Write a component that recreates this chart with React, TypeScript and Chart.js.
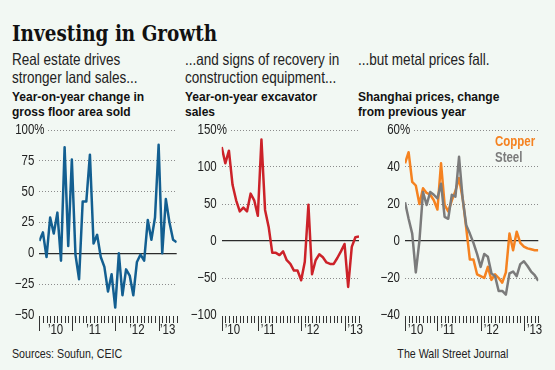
import React, { useEffect, useRef } from 'react';
import { Chart, registerables } from 'chart.js';

Chart.register(...registerables);

// ---------------- data ----------------
const floorAreaStart = '2010-04';
const floorAreaChange = [10, 17, -3, 29, 16, 33, -6, 86, 6, 76, -1, -21, 42, 42, 80, 8, 15, -3, -11, -31, -17, -44, 0, -34, -13, -18, -34, -7, -1, -6, 27, 11, 29, 88, 0, 44, 25, 11, 9];
const floorAreaTicks = [-50, -25, 0, 25, 50, 75, 100];

const excavatorStart = '2010-03';
const excavatorSales = [127, 105, 122, 76, 55, 40, 45, 40, 64, 55, 34, 137, 42, 19, -16, -16, -19, -14, -26, -31, -40, -40, -53, -28, 49, -45, -26, -18, -22, -29, -31, -31, -23, -14, -4, -62, -8, 5, 6];
const excavatorTicks = [-100, -50, 0, 50, 100, 150];

const metalStart = '2010-04';
const copperChange = [42, 48, 32, 30, 20, 28.5, 26, 25, 22, 17, 42, 19.5, 16, 22, 27, 34, 23, 7, -10, -10, -18, -19, -20, -14, -21, -18, -20, -22.5, -17, 4, -5, 5, -1, -3, -4, -4.5, -5, -5];
const steelChange = [21, 12, 4, -17, 0, 26.5, 19.5, 26.5, 25, 23, 31, 13, 12, 25, 24, 45.5, 23, 8.5, 4, -1, -7, -14, -7, -8.5, -17.5, -19, -27, -27, -29, -17.5, -16.5, -19, -12.5, -11, -13.5, -16.5, -18.5, -21.5];
const metalTicks = [-40, -20, 0, 20, 40, 60];

const yearLabels = ['\u201910', '\u201911', '\u201912', '\u201913'];

// ---------------- styles ----------------
const BG = '#f2f8f3';
const SANS = "'Liberation Sans', Arial, sans-serif";
const SQUEEZE = 0.82; // Liberation Sans squeezed to narrow proportions

function monthIndex(s: string) {
  const [y, m] = s.split('-').map(Number);
  return (y - 2010) * 12 + (m - 1);
}

function narrowText(
  c: CanvasRenderingContext2D,
  text: string,
  x: number,
  y: number,
  align: CanvasTextAlign,
  baseline: CanvasTextBaseline,
  size = 14
) {
  c.save();
  c.font = `${size}px ${SANS}`;
  c.translate(x, y);
  c.scale(SQUEEZE, 1);
  c.textAlign = align;
  c.textBaseline = baseline;
  c.fillText(text, 0, 0);
  c.restore();
}

type Series = { values: number[]; color: string };
type PanelCfg = {
  left: number;
  areaLeft: number;
  areaRight: number;
  start: string;
  yTicks: number[];
  series: Series[];
  labelMode: 'center' | 'left';
};

const CANVAS_W = 185;
const CANVAS_H = 225;
const CANVAS_TOP = 120;

const fmt = (v: number) => (v < 0 ? '\u2212' + Math.abs(v) : String(v));

const axisPlugin = (cfg: PanelCfg) => ({
  id: 'wsjAxis',
  afterDraw(chart: any) {
    const xs = chart.scales.x;
    const ys = chart.scales.y;
    const area = chart.chartArea;
    const c = chart.ctx as CanvasRenderingContext2D;
    c.save();
    // month ticks
    const y0 = Math.round(area.bottom) + 1;
    c.strokeStyle = '#333';
    c.lineWidth = 1;
    for (let m = Math.ceil(xs.min); m <= xs.max; m++) {
      const px = Math.round(xs.getPixelForValue(m)) + 0.5;
      const long = m % 12 === 0 || m === xs.min;
      c.beginPath();
      c.moveTo(px, y0);
      c.lineTo(px, y0 + (long ? 15 : 7));
      c.stroke();
    }
    c.fillStyle = '#222';
    // year labels
    yearLabels.forEach((lab, k) => {
      const s = Math.max(k * 12, xs.min);
      const e = Math.min(k * 12 + 12, xs.max);
      if (e <= s) return;
      if (cfg.labelMode === 'center') {
        narrowText(c, lab, (xs.getPixelForValue(s) + xs.getPixelForValue(e)) / 2, y0 + 18, 'center', 'alphabetic');
      } else {
        narrowText(c, lab, xs.getPixelForValue(s) + 3, y0 + 18, 'left', 'alphabetic');
      }
    });
    // y labels, right aligned on the numbers, percent sign hanging
    const lx = area.left - 5;
    cfg.yTicks.forEach((v) => {
      narrowText(c, fmt(v), lx, ys.getPixelForValue(v), 'right', 'middle');
    });
    const top = Math.max(...cfg.yTicks);
    const py = ys.getPixelForValue(top);
    c.font = `14px ${SANS}`;
    const w = c.measureText('%').width * SQUEEZE;
    c.fillStyle = BG;
    c.fillRect(lx, py - 4, w + 2, 8);
    c.fillStyle = '#222';
    narrowText(c, '%', lx, py, 'left', 'middle');
    c.restore();
  },
});

function Panel({ cfg }: { cfg: PanelCfg }) {
  const ref = useRef<HTMLCanvasElement | null>(null);
  useEffect(() => {
    if (!ref.current) return;
    const m0 = monthIndex(cfg.start);
    const n = Math.max(...cfg.series.map((s) => s.values.length));
    const yMin = Math.min(...cfg.yTicks);
    const yMax = Math.max(...cfg.yTicks);
    const chart = new Chart(ref.current, {
      type: 'line',
      data: {
        datasets: cfg.series.map((s) => ({
          data: s.values.map((v, i) => ({ x: m0 + i, y: v })),
          borderColor: s.color,
          borderWidth: 2.5,
          pointRadius: 0,
          tension: 0,
          fill: false,
          borderJoinStyle: 'round' as const,
        })),
      },
      options: {
        animation: false,
        responsive: false,
        devicePixelRatio: 1,
        layout: { padding: { left: 0, right: CANVAS_W - cfg.areaRight, top: 10, bottom: 30 } },
        plugins: { legend: { display: false }, tooltip: { enabled: false } },
        scales: {
          x: { type: 'linear', display: false, min: m0, max: m0 + n - 1 },
          y: {
            min: yMin,
            max: yMax,
            afterBuildTicks: (s: any) => {
              s.ticks = cfg.yTicks.map((v) => ({ value: v }));
            },
            afterFit: (s: any) => {
              s.width = cfg.areaLeft;
            },
            ticks: { display: false },
            grid: {
              drawTicks: false,
              color: (ctx: any) =>
                ctx.tick && ctx.tick.value === 0
                  ? '#2b2b2b'
                  : ctx.tick && ctx.tick.value === yMin
                  ? 'rgba(0,0,0,0)'
                  : '#8c8c8c',
              lineWidth: (ctx: any) => (ctx.tick && ctx.tick.value === 0 ? 1.3 : 1),
            },
            border: {
              display: false,
              dash: (ctx: any) => (ctx.tick && ctx.tick.value === 0 ? [] : [1, 2]),
            },
          },
        },
      } as any,
      plugins: [axisPlugin(cfg)],
    });
    return () => chart.destroy();
  }, [cfg]);
  return (
    <canvas
      ref={ref}
      width={CANVAS_W}
      height={CANVAS_H}
      style={{ position: 'absolute', left: cfg.left, top: CANVAS_TOP, width: CANVAS_W, height: CANVAS_H }}
    />
  );
}

const panels: PanelCfg[] = [
  {
    left: 0,
    areaLeft: 39.3,
    areaRight: 176.7,
    start: floorAreaStart,
    yTicks: floorAreaTicks,
    series: [{ values: floorAreaChange, color: '#135f91' }],
    labelMode: 'center',
  },
  {
    left: 185,
    areaLeft: 36.7,
    areaRight: 174,
    start: excavatorStart,
    yTicks: excavatorTicks,
    series: [{ values: excavatorSales, color: '#cc2229' }],
    labelMode: 'left',
  },
  {
    left: 370,
    areaLeft: 35,
    areaRight: 168.3,
    start: metalStart,
    yTicks: metalTicks,
    series: [
      { values: steelChange, color: '#7b7b7b' },
      { values: copperChange, color: '#f58220' },
    ],
    labelMode: 'left',
  },
];

const subtitles = [
  ['Real estate drives', 'stronger land sales...'],
  ['...and signs of recovery in', 'construction equipment...'],
  ['...but metal prices fall.'],
];
const headers = [
  ['Year-on-year change in', 'gross floor area sold'],
  ['Year-on-year excavator', 'sales'],
  ['Shanghai prices, change', 'from previous year'],
];
const colX = [12, 185, 358];

const narrowStyle = (size: number, bold = false): React.CSSProperties => ({
  position: 'absolute',
  fontFamily: SANS,
  fontSize: size,
  fontWeight: bold ? 'bold' : 'normal',
  whiteSpace: 'nowrap',
  transform: `scaleX(${SQUEEZE})`,
  transformOrigin: 'left top',
});

export default function App() {
  return (
    <div
      style={{
        position: 'fixed',
        left: 0,
        top: 0,
        width: 555,
        height: 370,
        background: BG,
        overflow: 'hidden',
        color: '#222',
      }}
    >
      <div
        style={{
          position: 'absolute',
          left: 12,
          top: 21,
          fontFamily: "'DejaVu Serif', serif",
          fontWeight: 'bold',
          fontSize: 23,
          lineHeight: '23px',
          whiteSpace: 'nowrap',
          color: '#111',
          transform: 'scaleX(0.8)',
          transformOrigin: 'left top',
        }}
      >
        Investing in Growth
      </div>
      {colX.map((x, i) => (
        <React.Fragment key={i}>
          <div style={{ ...narrowStyle(16.5), left: x, top: 51, lineHeight: '17.6px' }}>
            {subtitles[i].map((t, j) => (
              <div key={j}>{t}</div>
            ))}
          </div>
          <div
            style={{
              position: 'absolute',
              left: x,
              top: 90,
              fontFamily: SANS,
              fontWeight: 'bold',
              fontSize: 12,
              lineHeight: '15px',
              whiteSpace: 'nowrap',
              color: '#111',
            }}
          >
            {headers[i].map((t, j) => (
              <div key={j}>{t}</div>
            ))}
          </div>
        </React.Fragment>
      ))}
      {panels.map((p, i) => (
        <Panel key={i} cfg={p} />
      ))}
      <div style={{ ...narrowStyle(14, true), left: 495, top: 134, lineHeight: '14px', color: '#f58220' }}>Copper</div>
      <div style={{ ...narrowStyle(14, true), left: 495, top: 150, lineHeight: '14px', color: '#7b7b7b' }}>Steel</div>
      <div style={{ ...narrowStyle(13), left: 12, top: 347, lineHeight: '13px' }}>Sources: Soufun, CEIC</div>
      <div
        style={{
          ...narrowStyle(13),
          right: 555 - 508,
          top: 347,
          lineHeight: '13px',
          transformOrigin: 'right top',
        }}
      >
        The Wall Street Journal
      </div>
    </div>
  );
}
